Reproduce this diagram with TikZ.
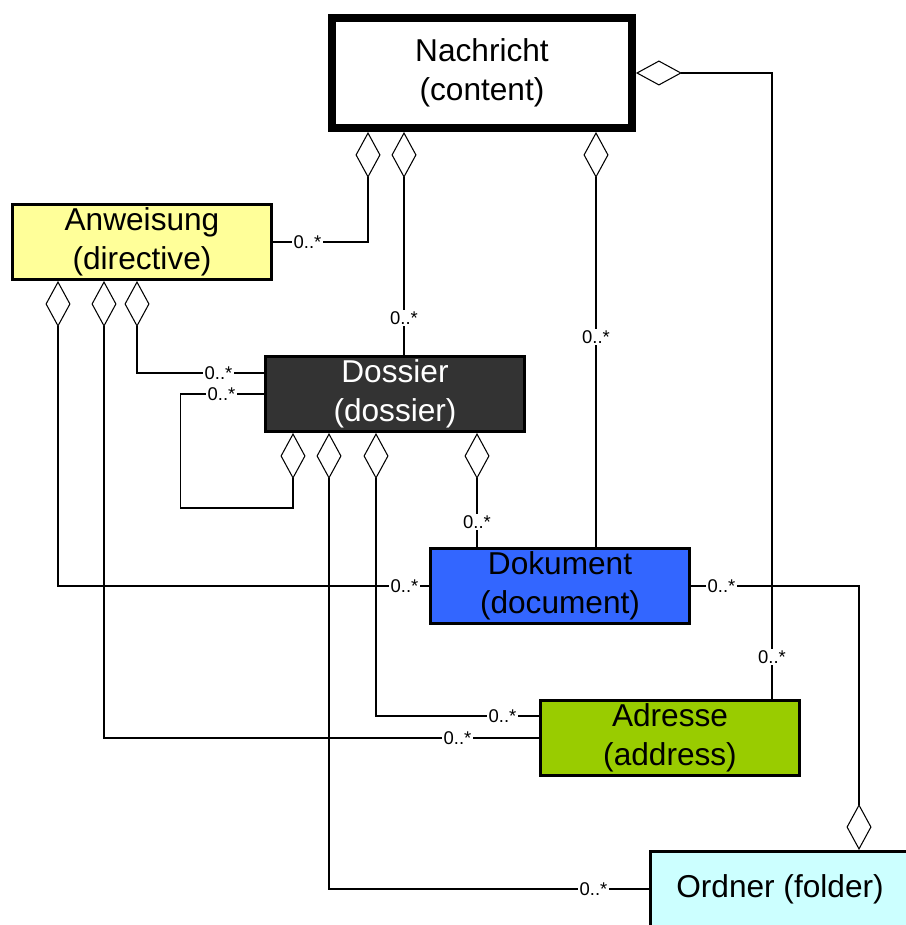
\documentclass[tikz,border=0pt]{standalone}
\usepackage{fontspec}
\setmainfont{Liberation Sans}
\usepackage{xcolor}
\usepackage{tikz}
\usetikzlibrary{shapes,arrows,positioning,calc,arrows.meta}
\definecolor{anwfill}{HTML}{FFFF99}
\definecolor{dosfill}{HTML}{333333}
\definecolor{dokfill}{HTML}{3366FF}
\definecolor{adrfill}{HTML}{99CC00}
\definecolor{ordfill}{HTML}{CCFFFF}
\begin{document}
\begin{tikzpicture}[x=0.02cm, y=-0.02cm,
    cls/.style={draw, line width=1.7pt, minimum width=5.2cm, minimum height=1.5cm, align=center, inner sep=0pt, font=\fontsize{18}{22.5}\selectfont},
    agg/.style={line width=0.6pt, {Diamond[open,length=0.92cm,width=0.5cm]}-},
    aggend/.style={line width=0.6pt, -{Diamond[open,length=0.92cm,width=0.5cm]}},
    mult/.style={fill=white, inner sep=0.8pt, font=\fontsize{10.5}{12}\selectfont}]
    \useasboundingbox (0,0) rectangle (905,925);
    \node[cls, line width=4.5pt, minimum width=6cm, minimum height=2.2cm] (nach) at (482,73) {Nachricht\\(content)};
    \node[cls, fill=anwfill] (anw) at (142,242) {Anweisung\\(directive)};
    \node[cls, fill=dosfill, text=white] (dos) at (395,394) {Dossier\\(dossier)};
    \node[cls, fill=dokfill] (dok) at (560,586) {Dokument\\(document)};
    \node[cls, fill=adrfill] (adr) at (670,738) {Adresse\\(address)};
    \node[cls, fill=ordfill] (ord) at (780,889) {Ordner (folder)};

    \draw[agg] ($(nach.south)+(-114,0)$) |- (anw.east);
    \draw[agg] ($(nach.south)+(-78,0)$) -- ($(dos.north)+(9,0)$);
    \draw[agg] ($(nach.south)+(114,0)$) -- ($(dok.north)+(36,0)$);
    \draw[agg] (nach.east) -| ($(adr.north)+(102,0)$);
    \draw[agg] ($(anw.south)+(-5,0)$) |- ($(dos.west)+(0,-21)$);
    \draw[agg] ($(anw.south)+(-84,0)$) |- (dok.west);
    \draw[agg] ($(anw.south)+(-38,0)$) |- (adr.west);
    \draw[agg] ($(dos.south)+(-102,0)$) -- ++(0,75) -| ($(dos.west)+(-83,0)$) -- (dos.west);
    \draw[agg] ($(dos.south)+(-66,0)$) |- (ord.west);
    \draw[agg] ($(dos.south)+(-19,0)$) |- ($(adr.west)+(0,-22)$);
    \draw[agg] ($(dos.south)+(82,0)$) -- ($(dok.north)+(-83,0)$);
    \draw[aggend] (dok.east) -| ($(ord.north)+(79,0)$);

    \node[mult] (m1) at ($(anw.east)+(34,0)$) {0..*};
    \node[mult] (m2) at ($(dos.north)+(9,-37)$) {0..*};
    \node[mult] (m3) at ($(dok.north)+(36,-210)$) {0..*};
    \node[mult] (m4) at ($(adr.north)+(102,-42)$) {0..*};
    \node[mult] (m5) at ($(dos.west)+(-45,-21)$) {0..*};
    \node[mult] (m6) at ($(dok.west)+(-24,0)$) {0..*};
    \node[mult] (m7) at ($(adr.west)+(-81,0)$) {0..*};
    \node[mult] (m8) at ($(dos.west)+(-42,0)$) {0..*};
    \node[mult] (m9) at ($(ord.west)+(-55,0)$) {0..*};
    \node[mult] (m10) at ($(adr.west)+(-36,-22)$) {0..*};
    \node[mult] (m11) at ($(dok.north)+(-83,-25)$) {0..*};
    \node[mult] (m12) at ($(dok.east)+(30,0)$) {0..*};
\end{tikzpicture}
\end{document}
